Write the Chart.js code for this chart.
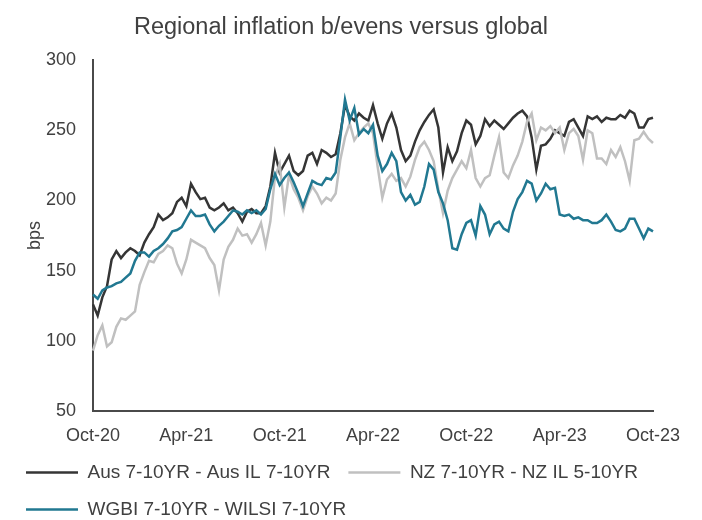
<!DOCTYPE html>
<html>
<head>
<meta charset="utf-8">
<script src="https://cdn.jsdelivr.net/npm/chart.js@4"></script>
<style>
    html, body { margin: 0; padding: 0; background: #fff; }
    #wrap { width: 702px; height: 520px; }
</style>
</head>
<body>
<div id="wrap"><canvas id="breakevenchart" width="702" height="520"></canvas></div>
<script>
// x ticks every 6 months, 20 points per half-year
const tickLabels = ['Oct-20', 'Apr-21', 'Oct-21', 'Apr-22', 'Oct-22', 'Apr-23', 'Oct-23'];

const aus = [126,118,131,139,158,164,159,163,166,164,
    161,170,176,181,190,186,188,191,199,202,
    196,212,206,201,202,195,193,195,198,193,
    195,191,185,192,194,191,191,196,210,234,
    220,226,232,221,218,221,232,234,226,236,
    234,231,233,248,268,260,257,262,259,257,
    268,255,244,255,262,252,236,228,232,242,
    250,256,261,265,252,220,238,228,235,248,
    257,254,240,246,258,253,257,254,251,255,
    259,262,264,260,245,222,239,240,244,250,
    248,246,256,258,252,246,260,258,260,256,
    259,258,258,261,259,264,262,252,252,258,
    259];

const nz = [93,104,111,96,99,110,116,115,118,121,
    140,149,157,156,162,164,168,166,155,148,
    158,172,170,168,166,159,154,136,158,167,
    172,180,175,176,170,176,184,168,185,217,
    226,195,218,208,202,193,203,210,205,198,
    202,200,205,229,245,255,243,248,252,255,
    248,224,202,215,219,214,216,210,217,229,
    238,242,236,228,208,191,207,216,222,228,
    223,236,216,210,216,218,232,245,220,216,
    225,232,242,256,262,243,252,250,253,248,
    252,236,248,251,246,229,250,248,230,230,
    226,236,231,238,228,214,243,244,249,244,
    241];

const wgbi = [133,130,136,138,139,141,142,145,148,157,
    163,163,160,164,166,169,173,178,179,181,
    187,193,189,189,190,183,178,182,185,189,
    193,192,190,193,191,193,190,194,208,219,
    211,216,220,213,205,196,205,214,212,211,
    216,215,220,245,272,257,266,247,251,248,
    254,232,221,226,234,228,206,200,204,197,
    199,210,226,222,206,198,186,166,165,176,
    184,186,175,196,190,176,183,185,180,178,
    192,201,206,214,212,200,205,212,208,209,
    190,189,190,187,188,186,186,184,184,186,
    190,185,179,178,180,187,187,180,173,180,
    178];

const seriesNames = ['Aus 7-10YR - Aus IL 7-10YR', 'NZ 7-10YR - NZ IL 5-10YR', 'WGBI 7-10YR - WILSI 7-10YR'];
const pointsPerTick = 20;

document.addEventListener('DOMContentLoaded', function() {
    const ctx = document.getElementById('breakevenchart').getContext('2d');
    const labels = aus.map((v, i) => i);
    const textColor = '#404040';
    const axisColor = '#4a4a4a';

    const chart = new Chart(ctx, {
        type: 'line',
        data: {
            labels: labels,
            datasets: [
                {
                    label: seriesNames[0],
                    data: aus,
                    borderColor: '#353535',
                    backgroundColor: '#353535',
                    borderWidth: 2.5,
                    order: 3
                },
                {
                    label: seriesNames[1],
                    data: nz,
                    borderColor: '#c0c0c0',
                    backgroundColor: '#c0c0c0',
                    borderWidth: 2.5,
                    order: 2
                },
                {
                    label: seriesNames[2],
                    data: wgbi,
                    borderColor: '#217891',
                    backgroundColor: '#217891',
                    borderWidth: 2.5,
                    order: 1
                }
            ]
        },
        options: {
            responsive: false,
            animation: false,
            elements: {
                point: { radius: 0 },
                line: { tension: 0 }
            },
            layout: {
                padding: { left: 8, right: 28, top: 0, bottom: -9 }
            },
            scales: {
                x: {
                    grid: { display: false, drawTicks: false },
                    border: { display: true, color: axisColor, width: 2 },
                    ticks: {
                        autoSkip: false,
                        maxRotation: 0,
                        padding: 16,
                        color: textColor,
                        font: { family: 'Liberation Sans', size: 18, lineHeight: 1 },
                        callback: function(value, index) {
                            return index % pointsPerTick === 0 ? tickLabels[index / pointsPerTick] : null;
                        }
                    },
                    afterFit: function(scale) {
                        scale.height = 34;
                    }
                },
                y: {
                    min: 50,
                    max: 300,
                    grid: { display: false, drawTicks: false },
                    border: { display: true, color: axisColor, width: 2 },
                    ticks: {
                        stepSize: 50,
                        padding: 17,
                        color: textColor,
                        font: { family: 'Liberation Sans', size: 18 }
                    },
                    title: {
                        display: true,
                        text: 'bps',
                        color: textColor,
                        padding: { top: 16, bottom: 0 },
                        font: { family: 'Liberation Sans', size: 18 }
                    },
                    afterFit: function(scale) {
                        scale.width = 85;
                    }
                },
                // empty right-hand axis, only keeps space after Oct-23
                yRight: {
                    position: 'right',
                    min: 50,
                    max: 300,
                    grid: { display: false, drawTicks: false },
                    border: { display: false },
                    ticks: { display: false },
                    afterFit: function(scale) {
                        scale.width = 21;
                    }
                }
            },
            plugins: {
                title: {
                    display: true,
                    text: 'Regional inflation b/evens versus global',
                    color: textColor,
                    font: { family: 'Liberation Sans', size: 23.5, weight: 'normal' },
                    padding: { top: 13, bottom: 19 }
                },
                legend: {
                    position: 'bottom',
                    align: 'start',
                    labels: {
                        usePointStyle: true,
                        pointStyle: 'line',
                        pointStyleWidth: 52,
                        boxWidth: 52,
                        padding: 18,
                        color: textColor,
                        font: { family: 'Liberation Sans', size: 19 },
                        sort: function(a, b) {
                            return a.datasetIndex - b.datasetIndex;
                        }
                    }
                },
                tooltip: { enabled: false }
            }
        }
    });
});
</script>
</body>
</html>
